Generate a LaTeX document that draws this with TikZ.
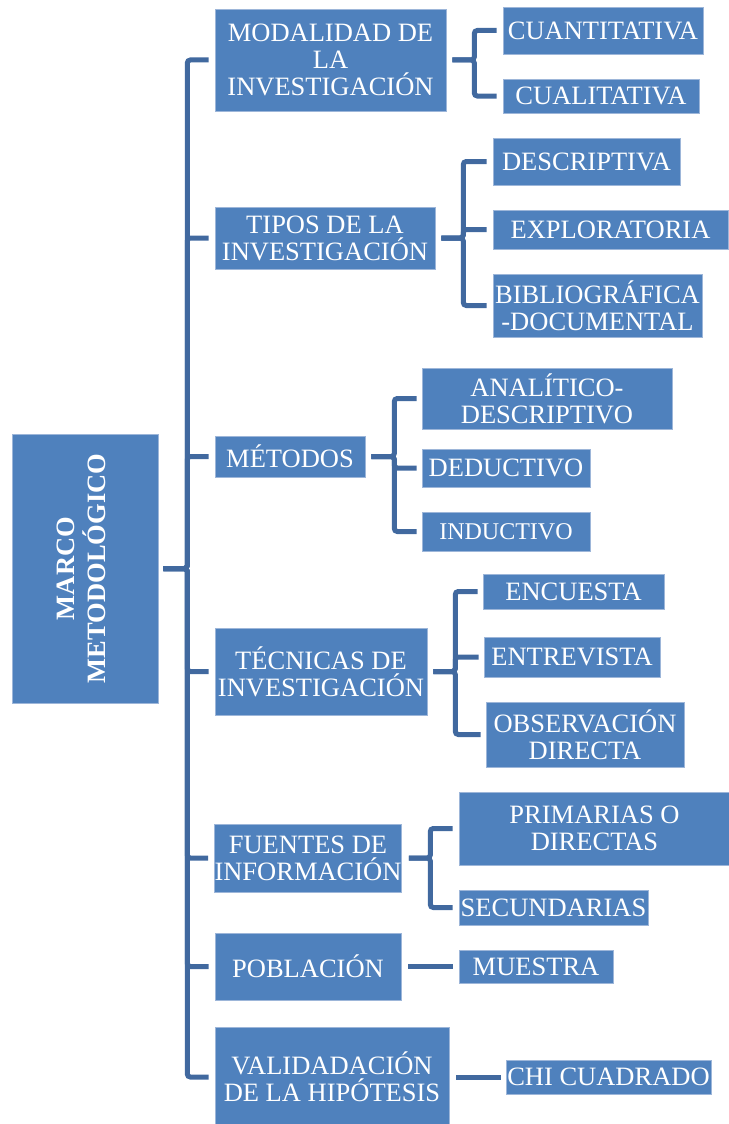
\documentclass[tikz,border=0pt]{standalone}
\usepackage{fontspec}
\setmainfont{Liberation Serif}
\definecolor{boxfill}{HTML}{4F81BD}
\definecolor{linecol}{HTML}{41699F}
\definecolor{boxedge}{HTML}{9DB6D9}
\begin{document}
\begin{tikzpicture}[x=1pt,y=-1pt,
  box/.style={draw=boxedge, line width=0.6pt, fill=boxfill, text=white, inner sep=0pt,
    align=center, font=\fontsize{26.5}{27}\selectfont},
  conn/.style={draw=linecol, line width=5pt, rounded corners=3pt}]
\useasboundingbox (0,0) rectangle (728,1124);

% root
\node[box, minimum width=146pt, minimum height=269pt] (marco) at (85,568.5)
  {\rotatebox{90}{\bfseries\begin{tabular}{@{}c@{}}MARCO\\METODOLÓGICO\end{tabular}}};

% level 1
\node[box, minimum width=231pt, minimum height=102pt] (mod) at (330.5,60) {MODALIDAD DE\\LA\\INVESTIGACIÓN};
\node[box, minimum width=220pt, minimum height=62pt] (tip) at (325,238) {TIPOS DE LA\\INVESTIGACIÓN};
\node[box, minimum width=150pt, minimum height=41pt] (met) at (290,456.5) {MÉTODOS};
\node[box, minimum width=212pt, minimum height=87pt] (tec) at (321,671.5) {TÉCNICAS DE\\INVESTIGACIÓN};
\node[box, minimum width=186pt, minimum height=68pt] (fue) at (308,858) {FUENTES DE\\INFORMACIÓN};
\node[box, minimum width=186pt, minimum height=67pt] (pob) at (308,966.5) {POBLACIÓN};
\node[box, minimum width=234pt, minimum height=100pt] (val) at (332,1077) {VALIDADACIÓN\\DE LA HIPÓTESIS};

% level 2
\node[box, minimum width=200pt, minimum height=47pt] (cuan) at (603,30.5) {CUANTITATIVA};
\node[box, minimum width=196pt, minimum height=34pt] (cual) at (601,96) {CUALITATIVA};
\node[box, minimum width=187pt, minimum height=47pt] (desc) at (586.5,161.5) {DESCRIPTIVA};
\node[box, minimum width=235pt, minimum height=39pt] (expl) at (610.5,229.5) {EXPLORATORIA};
\node[box, minimum width=209pt, minimum height=63pt] (bib) at (597.5,305.5) {BIBLIOGRÁFICA\\-DOCUMENTAL};
\node[box, minimum width=250pt, minimum height=61pt] (ana) at (547,398.5) {ANALÍTICO-\\DESCRIPTIVO};
\node[box, minimum width=168pt, minimum height=38pt] (ded) at (506,468) {DEDUCTIVO};
\node[box, minimum width=168pt, minimum height=39pt, font=\fontsize{24}{27}\selectfont] (ind) at (506,531.5) {INDUCTIVO};
\node[box, minimum width=181pt, minimum height=35pt] (enc) at (573.5,591.5) {ENCUESTA};
\node[box, minimum width=176pt, minimum height=40pt] (ent) at (572,657) {ENTREVISTA};
\node[box, minimum width=198pt, minimum height=65pt] (obs) at (585,734.5) {OBSERVACIÓN\\DIRECTA};
\node[box, minimum width=271pt, minimum height=73pt] (pri) at (594.5,828.5) {PRIMARIAS O\\DIRECTAS};
\node[box, minimum width=189pt, minimum height=35pt] (sec) at (553.5,907.5) {SECUNDARIAS};
\node[box, minimum width=154pt, minimum height=33pt] (mue) at (536,966.5) {MUESTRA};
\node[box, minimum width=205pt, minimum height=34pt] (chi) at (608.5,1077) {CHI CUADRADO};

% trunk
\foreach \c in {mod,tip,met,tec,fue,pob,val}
  \draw[conn] ([xshift=5pt]marco.east) -- ++(24pt,0) |- ([xshift=-6pt]\c.west);

% brackets
\foreach \c in {cuan,cual}
  \draw[conn] ([xshift=6pt]mod.east) -- ++(22pt,0) |- ([xshift=-6pt]\c.west);
\foreach \c in {desc,expl,bib}
  \draw[conn] ([xshift=6pt]tip.east) -- ++(22pt,0) |- ([xshift=-6pt]\c.west);
\foreach \c in {ana,ded,ind}
  \draw[conn] ([xshift=6pt]met.east) -- ++(23pt,0) |- ([xshift=-5pt]\c.west);
\foreach \c in {enc,ent,obs}
  \draw[conn] ([xshift=6pt]tec.east) -- ++(22pt,0) |- ([xshift=-5pt]\c.west);
\foreach \c in {pri,sec}
  \draw[conn] ([xshift=7pt]fue.east) -- ++(21.5pt,0) |- ([xshift=-6pt]\c.west);
\draw[conn] ([xshift=7pt]pob.east) -- ([xshift=-6pt]mue.west);
\draw[conn] ([xshift=7pt]val.east) -- ([xshift=-5pt]chi.west);
\end{tikzpicture}
\end{document}
